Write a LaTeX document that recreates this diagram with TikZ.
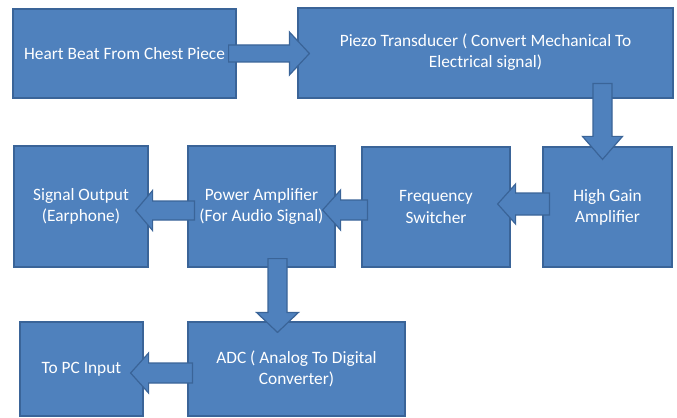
\documentclass[tikz,border=0pt]{standalone}
\usepackage{fontspec}
\setmainfont{Carlito}
\usetikzlibrary{calc}
\definecolor{boxfill}{HTML}{4F81BD}
\definecolor{boxline}{HTML}{3A6498}
\tikzset{
  blk/.style={draw=boxline, fill=boxfill, line width=0.9pt, text=white,
    font=\fontsize{13}{15.8}\selectfont, align=center, inner sep=0pt},
  boxat/.style n args={4}{at={({(#1+#3)/2},{(#2+#4)/2})},
    minimum width={(#3-#1)*0.75pt}, minimum height={(#4-#2)*0.75pt}},
  barrow/.style={draw=boxline, fill=boxfill, line width=0.9pt, line join=miter},
}
% horizontal block arrow: start, tip, head-base offset dx, shaft half width, head half width
\newcommand\hblk[5]{%
  \filldraw[barrow] ($(#1)+(0,-#4)$) -- ($(#2)+(#3,-#4)$) -- ($(#2)+(#3,-#5)$) -- (#2)
    -- ($(#2)+(#3,#5)$) -- ($(#2)+(#3,#4)$) -- ($(#1)+(0,#4)$) -- cycle;}
% vertical block arrow
\newcommand\vblk[5]{%
  \filldraw[barrow] ($(#1)+(-#4,0)$) -- ($(#2)+(-#4,#3)$) -- ($(#2)+(-#5,#3)$) -- (#2)
    -- ($(#2)+(#5,#3)$) -- ($(#2)+(#4,#3)$) -- ($(#1)+(#4,0)$) -- cycle;}
\begin{document}
\begin{tikzpicture}[x=0.75pt,y=-0.75pt]
\useasboundingbox (0,0) rectangle (677,417);
% boxes
\node[blk, boxat={13}{9}{236}{98}] (b1) {Heart Beat From Chest Piece};
\node[blk, boxat={298}{8}{673}{98}] (b2) {\raisebox{-2pt}{\begin{tabular}{@{}c@{}}Piezo Transducer ( Convert Mechanical To\\Electrical signal)\end{tabular}}};
\node[blk, boxat={543}{147}{672}{267}] (hg) {High Gain\\Amplifier};
\node[blk, boxat={362}{147}{510}{267}] (fs) {Frequency\\Switcher};
\node[blk, boxat={188}{146}{335}{267}] (pa) {Power Amplifier\\(For Audio Signal)};
\node[blk, boxat={14}{146}{148}{267}] (so) {Signal Output\\(Earphone)};
\node[blk, boxat={188}{322}{405}{416}] (adc) {ADC ( Analog To Digital\\Converter)};
\node[blk, boxat={20}{322}{143}{416}] (pc) {To PC Input};
% arrow end points
\coordinate (a1s) at ($(b1.east)+(-8,0)$);
\coordinate (a1t) at ($(b2.west |- a1s)+(12,0)$);
\coordinate (a2s) at ($(hg.north |- b2.south)+(-5,-15)$);
\coordinate (a2t) at ($(hg.north)+(-5,13)$);
\coordinate (a3s) at ($(hg.west)+(7,-3)$);
\coordinate (a3t) at ($(fs.east |- a3s)+(-13,0)$);
\coordinate (a4s) at ($(fs.west)+(6,3)$);
\coordinate (a4t) at ($(pa.east |- a4s)+(-13,0)$);
\coordinate (a5s) at ($(pa.west)+(7,4)$);
\coordinate (a5t) at ($(so.east |- a5s)+(-13,0)$);
\coordinate (a6s) at ($(pa.south)+(16,-9)$);
\coordinate (a6b) at (a6s |- adc.north);
\coordinate (a6t) at ($(a6b)+(0,11)$);
\coordinate (a7s) at ($(adc.west)+(5,4)$);
\coordinate (a7t) at ($(pc.east |- a7s)+(-13,0)$);
% arrows
\hblk{a1s}{a1t}{-20}{8.5}{21.5}
\vblk{a2s}{a2t}{-23}{9.5}{20}
\hblk{a3s}{a3t}{18}{11}{20}
\hblk{a4s}{a4t}{18}{10}{20}
\hblk{a5s}{a5t}{17}{9.5}{20}
\vblk{a6s}{a6t}{-20}{9.5}{21}
\hblk{a7s}{a7t}{18}{10}{20}
\end{tikzpicture}
\end{document}
